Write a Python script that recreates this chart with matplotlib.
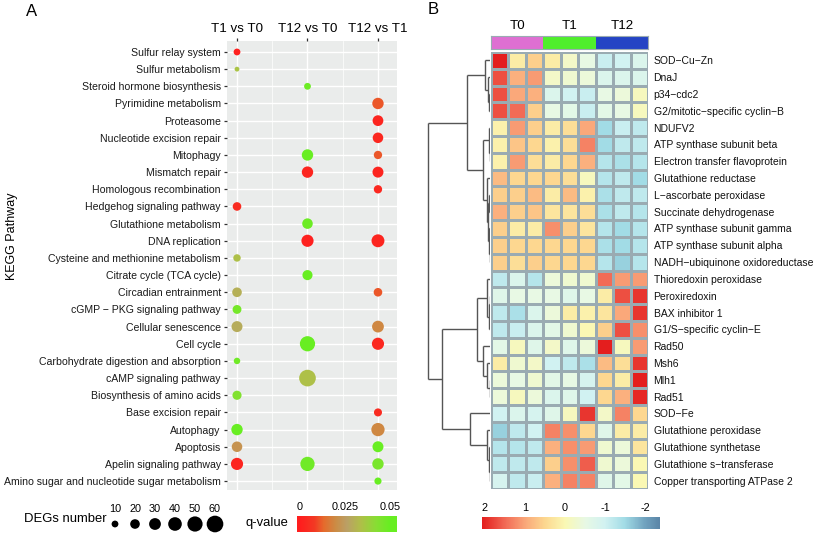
import numpy as np
import matplotlib
matplotlib.use("Agg")
import matplotlib.pyplot as plt
from matplotlib.colors import LinearSegmentedColormap, Normalize

plt.rcParams['font.family'] = ['Liberation Sans', 'DejaVu Sans']

W, H = 817, 535

# ---------------- panel A data ----------------
pathways = ["Sulfur relay system", "Sulfur metabolism", "Steroid hormone biosynthesis",
            "Pyrimidine metabolism", "Proteasome", "Nucleotide excision repair",
            "Mitophagy", "Mismatch repair", "Homologous recombination",
            "Hedgehog signaling pathway", "Glutathione metabolism", "DNA replication",
            "Cysteine and methionine metabolism", "Citrate cycle (TCA cycle)",
            "Circadian entrainment", "cGMP − PKG signaling pathway", "Cellular senescence",
            "Cell cycle", "Carbohydrate digestion and absorption", "cAMP signaling pathway",
            "Biosynthesis of amino acids", "Base excision repair", "Autophagy", "Apoptosis",
            "Apelin signaling pathway", "Amino sugar and nucleotide sugar metabolism"]
comparisons = ["T1 vs T0", "T12 vs T0", "T12 vs T1"]

# (pathway, DEGs number, q-value)
t1_vs_t0 = [("Sulfur relay system", 10, 0.001), ("Sulfur metabolism", 5, 0.035),
            ("Hedgehog signaling pathway", 16, 0.004),
            ("Cysteine and methionine metabolism", 12, 0.034),
            ("Circadian entrainment", 20, 0.030), ("cGMP − PKG signaling pathway", 17, 0.047),
            ("Cellular senescence", 26, 0.029), ("Carbohydrate digestion and absorption", 9, 0.048),
            ("Biosynthesis of amino acids", 18, 0.044), ("Autophagy", 28, 0.050),
            ("Apoptosis", 24, 0.022), ("Apelin signaling pathway", 32, 0.002)]
t12_vs_t0 = [("Steroid hormone biosynthesis", 10, 0.049), ("Mitophagy", 28, 0.050),
             ("Mismatch repair", 28, 0.002), ("Glutathione metabolism", 24, 0.049),
             ("DNA replication", 32, 0.001), ("Citrate cycle (TCA cycle)", 22, 0.050),
             ("Cell cycle", 50, 0.050), ("cAMP signaling pathway", 60, 0.034),
             ("Apelin signaling pathway", 44, 0.048)]
t12_vs_t1 = [("Pyrimidine metabolism", 28, 0.011), ("Proteasome", 25, 0.002),
             ("Nucleotide excision repair", 24, 0.003), ("Mitophagy", 15, 0.011),
             ("Mismatch repair", 26, 0.002), ("Homologous recombination", 15, 0.003),
             ("DNA replication", 36, 0.002), ("Circadian entrainment", 16, 0.011),
             ("Cellular senescence", 30, 0.019), ("Cell cycle", 32, 0.003),
             ("Base excision repair", 14, 0.004), ("Autophagy", 38, 0.019),
             ("Apoptosis", 26, 0.050), ("Apelin signaling pathway", 28, 0.046),
             ("Amino sugar and nucleotide sugar metabolism", 11, 0.050)]
size_legend = [10, 20, 30, 40, 50, 60]
q_ticks = [0, 0.025, 0.05]

# ---------------- panel B data ----------------
genes = ["SOD−Cu−Zn", "DnaJ", "p34−cdc2", "G2/mitotic−specific cyclin−B", "NDUFV2",
         "ATP synthase subunit beta", "Electron transfer flavoprotein", "Glutathione reductase",
         "L−ascorbate peroxidase", "Succinate dehydrogenase", "ATP synthase subunit gamma",
         "ATP synthase subunit alpha", "NADH−ubiquinone oxidoreductase", "Thioredoxin peroxidase",
         "Peroxiredoxin", "BAX inhibitor 1", "G1/S−specific cyclin−E", "Rad50", "Msh6", "Mlh1",
         "Rad51", "SOD−Fe", "Glutathione peroxidase", "Glutathione synthetase",
         "Glutathione s−transferase", "Copper transporting ATPase 2"]
groups = ["T0", "T1", "T12"]
group_colors = ["#DE6FD2", "#4FEE2C", "#2444C4"]
expr = [
    [2.1, 0.2, 0.6, 0.2, -0.2, -0.5, -1.1, -1.0, -0.8],
    [1.7, 0.9, 1.1, -0.2, -0.3, -0.4, -0.8, -0.8, -0.8],
    [1.7, 1.0, 0.9, -0.8, -1.0, -1.1, -0.5, -0.4, -0.1],
    [1.7, 1.5, 0.6, -0.5, -0.6, -1.1, -0.6, -0.5, -0.1],
    [0.1, 1.1, 0.6, 0.2, 0.4, 1.0, -1.5, -1.1, -1.2],
    [0.1, 0.7, 0.5, 0.1, 0.4, 1.3, -1.5, -1.2, -1.2],
    [0.1, 1.1, 0.4, 0.2, 0.5, 0.9, -1.3, -1.4, -1.3],
    [0.8, 0.5, 0.5, 0.5, 0.4, -0.1, -1.3, -1.2, -1.5],
    [0.6, 0.6, 0.8, 0.2, 0.8, 0.1, -1.4, -1.2, -1.2],
    [0.9, 0.6, 0.7, 0.3, 0.3, 0.4, -1.4, -1.2, -1.3],
    [0.6, 0.2, 0.2, 1.2, 0.6, 0.3, -1.3, -1.5, -1.3],
    [0.6, 0.5, 0.5, 0.5, 0.5, 0.5, -1.4, -1.5, -1.3],
    [0.6, 0.4, 0.6, 0.5, 0.5, 0.5, -1.3, -1.6, -1.3],
    [-1.2, -0.8, -1.3, -0.4, -0.3, -0.3, 1.5, 1.1, 1.1],
    [-0.7, -0.5, -0.5, -0.5, -0.7, -0.5, 0.2, 1.7, 1.9],
    [-1.2, -1.4, -0.8, -0.4, 0.2, 0.1, 0.3, 1.0, 1.9],
    [-1.2, -1.1, -0.8, -0.6, -0.3, 0.0, 0.6, 1.7, 1.2],
    [-0.6, -0.1, -0.7, -0.2, -0.7, -0.4, 2.2, -0.1, 1.1],
    [0.2, -0.3, -0.2, -1.0, -1.2, -1.4, 0.8, 0.4, 1.9],
    [-0.4, -0.5, -0.3, -0.6, -0.5, -0.9, 0.5, 0.2, 2.2],
    [-0.4, -0.1, -0.4, -0.8, -0.7, -1.0, 0.5, 0.9, 2.0],
    [-1.0, -0.8, -0.9, -0.7, -0.1, 1.9, -0.2, 1.3, 0.5],
    [-1.6, -1.2, -1.0, 1.3, 1.2, 0.5, -0.7, 0.2, 0.2],
    [-1.3, -1.3, -1.2, 0.9, 1.2, 1.1, -0.3, -0.4, 0.3],
    [-1.2, -1.2, -1.2, 0.6, 1.2, 1.6, -0.3, -0.4, 0.0],
    [-0.9, -1.2, -1.1, 0.9, 1.3, 1.3, -0.7, -0.6, 0.0],
]
# row dendrogram, scipy style: (left, right, height); new cluster ids start at 26
row_linkage = [(2, 3, 0.5), (1, 26, 2), (0, 27, 5), (5, 6, 0.3), (4, 29, 1),
               (8, 9, 0.5), (11, 12, 0.4), (10, 32, 1), (31, 33, 1.5), (7, 34, 3),
               (30, 35, 7), (28, 36, 23), (14, 15, 0.4), (38, 16, 1), (13, 39, 3),
               (19, 20, 0.4), (18, 41, 3), (17, 42, 7), (40, 43, 13), (24, 25, 0.4),
               (23, 45, 1), (22, 46, 3), (21, 47, 20), (44, 48, 48), (37, 49, 62)]
heat_ticks = [2, 1, 0, -1, -2]


def box(x0, y0, x1, y1):
    return [x0 / W, 1 - y1 / H, (x1 - x0) / W, (y1 - y0) / H]


fig = plt.figure(figsize=(W / 100, H / 100), dpi=100)

qmap = LinearSegmentedColormap.from_list("q", [
    (0.0, "#FF1E1E"), (0.16, "#F33A24"), (0.26, "#E66A2C"), (0.4, "#CB8D46"),
    (0.52, "#BBA066"), (0.68, "#AFC048"), (0.85, "#88DE34"), (1.0, "#68EE22")])
qnorm = Normalize(0, 0.05)


def dot_size(n):
    return 2.4 * np.asarray(n)


# ---------------- panel A ----------------
axA = fig.add_axes(box(227, 41, 397, 490))
axA.set_facecolor("#EAECEB")
for ci, data in enumerate([t1_vs_t0, t12_vs_t0, t12_vs_t1]):
    ys = [pathways.index(p) for p, n, q in data]
    ns = [n for p, n, q in data]
    qs = [q for p, n, q in data]
    axA.scatter([ci] * len(ys), ys, s=dot_size(ns), c=qs, cmap=qmap, norm=qnorm,
                edgecolors="none", zorder=3)
axA.set_xlim(-0.142, 2.27)
axA.set_ylim(len(pathways) - 1 + 0.52, -0.64)
axA.set_xticks(range(3))
axA.set_xticklabels(comparisons, fontsize=9.6)
axA.set_xticks([0.5, 1.5], minor=True)
axA.set_yticks(range(len(pathways)))
axA.set_yticklabels(pathways, fontsize=7.6, color="#1a1a1a")
axA.xaxis.tick_top()
axA.tick_params(axis="x", which="major", length=2.5, width=0.9, color="#333333", pad=2)
axA.tick_params(axis="x", which="minor", length=0)
axA.tick_params(axis="y", length=2.5, width=0.9, color="#333333", pad=2)
axA.grid(True, which="major", color="white", linewidth=1.0)
axA.grid(True, which="minor", axis="x", color="white", linewidth=0.5)
axA.set_axisbelow(True)
for s in axA.spines.values():
    s.set_visible(False)

fig.text(12 / W, 1 - 236 / H, "KEGG Pathway", rotation=90, fontsize=9, ha="center", va="center")
fig.text(26 / W, 1 - 11 / H, "A", fontsize=12, ha="left", va="center")
fig.text(428 / W, 1 - 9 / H, "B", fontsize=12, ha="left", va="center")

# size legend
fig.text(24 / W, 1 - 519 / H, "DEGs number", fontsize=9.4, ha="left", va="center")
axS = fig.add_axes(box(105, 498, 225, 535))
axS.set_xlim(105, 225)
axS.set_ylim(535, 498)
xs = np.linspace(115, 215, len(size_legend))
axS.scatter(xs, [524] * len(xs), s=dot_size(size_legend), color="black", edgecolors="none")
for x, n in zip(xs, size_legend):
    axS.text(x, 509, str(n), fontsize=7.8, ha="center", va="center")
axS.axis("off")

# q-value colorbar
fig.text(267 / W, 1 - 523 / H, "q-value", fontsize=9.4, ha="center", va="center")
axQ = fig.add_axes(box(297, 516, 397, 532))
qv = np.linspace(-0.0017, 0.0539, 200)
axQ.imshow(qv[None, :], aspect="auto", cmap=qmap, norm=qnorm,
           extent=(qv[0], qv[-1], 0, 1))
axQ.set_xlim(qv[0], qv[-1])
axQ.set_yticks([])
axQ.xaxis.tick_top()
axQ.set_xticks(q_ticks)
axQ.set_xticklabels(["0", "0.025", "0.05"], fontsize=7.8)
axQ.tick_params(axis="x", length=0, pad=3)
for s in axQ.spines.values():
    s.set_visible(False)

# ---------------- panel B ----------------
hmap = LinearSegmentedColormap.from_list("h", [
    (0.0, "#5B86A8"), (0.083, "#72A4C0"), (0.195, "#A2DCE6"), (0.308, "#D2F2F2"),
    (0.42, "#E8F9E4"), (0.533, "#FAF8B4"), (0.645, "#FDD890"), (0.757, "#FAA87A"),
    (0.87, "#F26B56"), (1.0, "#E41E1E")])
hnorm = Normalize(-2.37, 2.08)

vals = np.array(expr)
nr, nc = vals.shape
axH = fig.add_axes(box(491, 52, 648, 489))
axH.pcolormesh(np.arange(nc + 1), np.arange(nr + 1), vals, cmap=hmap, norm=hnorm,
               edgecolors="#9AABB2", linewidth=0.8)
axH.set_xlim(0, nc)
axH.set_ylim(nr, 0)
axH.set_xticks([])
axH.yaxis.tick_right()
axH.set_yticks(np.arange(nr) + 0.5)
axH.set_yticklabels(genes, fontsize=7.5, color="#111111")
axH.tick_params(axis="y", length=0, pad=4)
for s in axH.spines.values():
    s.set_visible(False)

# annotation bar
axT = fig.add_axes(box(491, 36, 648, 49))
axT.pcolormesh(np.arange(nc + 1), [0, 1], np.repeat(np.arange(3), 3)[None, :],
               cmap=LinearSegmentedColormap.from_list("g", group_colors, N=3),
               edgecolors="none")
axT.set_xlim(0, nc)
axT.set_ylim(0, 1)
axT.set_xticks([])
axT.set_yticks([])
for s in axT.spines.values():
    s.set_color("#9AABB2")
    s.set_linewidth(0.8)
for gi, g in enumerate(groups):
    axT.text(gi * 3 + 1.5, 1.75, g, fontsize=9.6, ha="center", va="center")

# row dendrogram
axD = fig.add_axes(box(426, 52, 490, 489))
pos_y = {i: i + 0.5 for i in range(nr)}
pos_h = {i: 0.0 for i in range(nr)}
for k, (a, b, h) in enumerate(row_linkage):
    nid = nr + k
    for c in (a, b):
        axD.plot([pos_h[c], h], [pos_y[c], pos_y[c]], color="#555555", lw=1.0,
                 solid_capstyle="butt")
    axD.plot([h, h], [pos_y[a], pos_y[b]], color="#555555", lw=1.0, solid_capstyle="butt")
    pos_y[nid] = (pos_y[a] + pos_y[b]) / 2
    pos_h[nid] = h
axD.set_xlim(64, 0)
axD.set_ylim(nr, 0)
axD.axis("off")

# heatmap colorbar
axC = fig.add_axes(box(482, 517, 660, 529))
cv = np.linspace(2.075, -2.375, 300)
axC.imshow(cv[None, :], aspect="auto", cmap=hmap, norm=hnorm, extent=(cv[0], cv[-1], 0, 1))
axC.set_xlim(cv[0], cv[-1])
axC.set_yticks([])
axC.xaxis.tick_top()
axC.set_xticks(heat_ticks)
axC.set_xticklabels([str(t) for t in heat_ticks], fontsize=7.8)
axC.tick_params(axis="x", length=0, pad=3)
for s in axC.spines.values():
    s.set_visible(False)

fig.savefig("out.png", dpi=100)
